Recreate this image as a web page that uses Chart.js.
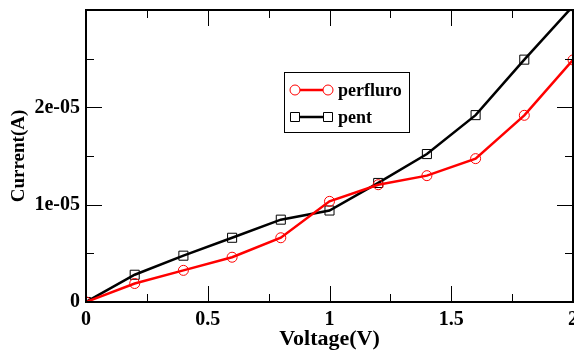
<!DOCTYPE html>
<html>
<head>
<meta charset="utf-8">
<script src="https://cdn.jsdelivr.net/npm/chart.js@4"></script>
<style>
    html, body { margin: 0; padding: 0; background: #fff; }
    #ivChart { display: block; }
</style>
</head>
<body>
<canvas id="ivChart" width="574" height="353"></canvas>
<script>
// I-V data (x in volts, y in amperes)
const voltage = [0, 0.2, 0.4, 0.6, 0.8, 1.0, 1.2, 1.4, 1.6, 1.8, 2.0];
const perfluroCurrent = [0, 0.19e-5, 0.325e-5, 0.46e-5, 0.66e-5, 1.034e-5, 1.205e-5, 1.298e-5, 1.473e-5, 1.918e-5, 2.487e-5];
const pentCurrent = [0, 0.28e-5, 0.476e-5, 0.66e-5, 0.846e-5, 0.94e-5, 1.223e-5, 1.52e-5, 1.92e-5, 2.49e-5, 3.04e-5];

// axis tick labels
const xTickLabels = ['0', '0.5', '1', '1.5', '2'];
const yTickLabels = ['0', '1e-05', '2e-05'];

const SERIF = '"Liberation Serif", "Times New Roman", serif';

function toPoints(xs, ys) {
    return xs.map((x, i) => ({ x: x, y: ys[i] }));
}

/**
 * Frame around the plot plus inward major/minor ticks on all four sides
 */
const frameTicks = {
    id: 'frameTicks',
    afterDraw(chart) {
        const { ctx, chartArea: a, scales } = chart;
        const xs = scales.x, ys = scales.y;
        ctx.save();
        ctx.strokeStyle = '#000';

        ctx.lineWidth = 1;
        ctx.beginPath();
        xs.ticks.forEach(t => {
            const px = Math.round(xs.getPixelForValue(t.value)) + 0.5;
            if (px <= a.left + 1 || px >= a.right - 1) return;
            const len = Math.abs(t.value / 0.5 - Math.round(t.value / 0.5)) < 1e-6 ? 16 : 8;
            ctx.moveTo(px, a.bottom); ctx.lineTo(px, a.bottom - len);
            ctx.moveTo(px, a.top); ctx.lineTo(px, a.top + len);
        });
        ys.ticks.forEach(t => {
            const py = Math.round(ys.getPixelForValue(t.value)) + 0.5;
            if (py <= a.top + 1 || py >= a.bottom - 1) return;
            const q = t.value / 1e-5;
            const len = Math.abs(q - Math.round(q)) < 1e-6 ? 16 : 8;
            ctx.moveTo(a.left, py); ctx.lineTo(a.left + len, py);
            ctx.moveTo(a.right, py); ctx.lineTo(a.right - len, py);
        });
        ctx.stroke();

        ctx.lineWidth = 2;
        ctx.strokeRect(a.left, a.top, a.right - a.left, a.bottom - a.top);
        ctx.restore();
    }
};

/**
 * Boxed legend with a line sample capped by a marker at each end
 */
const boxLegend = {
    id: 'boxLegend',
    afterDraw(chart) {
        const ctx = chart.ctx;
        const box = { x: 284.5, y: 72.5, w: 125, h: 60 };
        ctx.save();
        ctx.fillStyle = '#fff';
        ctx.fillRect(box.x, box.y, box.w, box.h);
        ctx.strokeStyle = '#000';
        ctx.lineWidth = 1;
        ctx.strokeRect(box.x, box.y, box.w, box.h);

        chart.data.datasets.forEach((ds, i) => {
            const y = 90 + i * 27;
            const x0 = 295, x1 = 328;
            ctx.strokeStyle = ds.borderColor;
            ctx.lineWidth = ds.borderWidth;
            ctx.beginPath();
            ctx.moveTo(x0, y); ctx.lineTo(x1, y);
            ctx.stroke();
            ctx.lineWidth = 1;
            [x0, x1].forEach(x => {
                ctx.beginPath();
                if (ds.pointStyle === 'rect') {
                    ctx.rect(x - 4.5, y - 4.5, 9, 9);
                } else {
                    ctx.arc(x, y, 5, 0, Math.PI * 2);
                }
                ctx.fillStyle = '#fff';
                ctx.fill();
                ctx.strokeStyle = ds.pointBorderColor;
                ctx.stroke();
            });
            ctx.fillStyle = '#000';
            ctx.font = 'bold 18px ' + SERIF;
            ctx.textBaseline = 'middle';
            ctx.fillText(ds.label, 338, y + 1);
        });
        ctx.restore();
    }
};

const ctx = document.getElementById('ivChart');
new Chart(ctx, {
    type: 'line',
    data: {
        datasets: [
            {
                label: 'perfluro',
                data: toPoints(voltage, perfluroCurrent),
                borderColor: '#ff0000',
                borderWidth: 2.5,
                pointStyle: 'circle',
                pointRadius: 5,
                pointBorderWidth: 1,
                pointBorderColor: '#ff0000',
                pointBackgroundColor: 'rgba(0,0,0,0)',
                tension: 0,
                clip: 0
            },
            {
                label: 'pent',
                data: toPoints(voltage, pentCurrent),
                borderColor: '#000000',
                borderWidth: 2.5,
                pointStyle: 'rect',
                pointRadius: 6.4,
                pointBorderWidth: 1,
                pointBorderColor: '#000000',
                pointBackgroundColor: 'rgba(0,0,0,0)',
                tension: 0,
                clip: 0
            }
        ]
    },
    options: {
        responsive: false,
        animation: false,
        layout: {
            autoPadding: false,
            padding: { top: 10, right: 1, left: 0, bottom: 0 }
        },
        plugins: {
            legend: { display: false },
            tooltip: { enabled: false }
        },
        scales: {
            x: {
                type: 'linear',
                min: 0,
                max: 2,
                grid: { display: false, drawTicks: false },
                border: { display: false },
                ticks: {
                    stepSize: 0.25,
                    autoSkip: false,
                    maxRotation: 0,
                    padding: 6,
                    color: '#000',
                    font: { family: SERIF, size: 20, weight: 'bold' },
                    callback: v => {
                        const i = Math.round(v / 0.5);
                        return Math.abs(v / 0.5 - i) < 1e-6 ? (xTickLabels[i] || '') : '';
                    }
                },
                title: {
                    display: true,
                    text: 'Voltage(V)',
                    color: '#000',
                    padding: { top: -4, bottom: 0 },
                    font: { family: SERIF, size: 22, weight: 'bold' }
                },
                // keep the plot edges fixed, labels may spill over
                afterFit: s => {
                    s.height = 51;
                    s.paddingLeft = 0;
                    s.paddingRight = 0;
                }
            },
            y: {
                type: 'linear',
                min: 0,
                max: 3e-5,
                grid: { display: false, drawTicks: false },
                border: { display: false },
                ticks: {
                    stepSize: 0.5e-5,
                    autoSkip: false,
                    padding: 6,
                    color: '#000',
                    font: { family: SERIF, size: 20, weight: 'bold' },
                    callback: v => {
                        const q = v / 1e-5;
                        const i = Math.round(q);
                        return Math.abs(q - i) < 1e-6 ? (yTickLabels[i] || '') : '';
                    }
                },
                title: {
                    display: true,
                    text: 'Current(A)',
                    color: '#000',
                    padding: { top: 8, bottom: 0 },
                    font: { family: SERIF, size: 19, weight: 'bold' }
                },
                afterFit: s => {
                    s.width = 86;
                    s.paddingTop = 0;
                    s.paddingBottom = 0;
                }
            }
        }
    },
    plugins: [frameTicks, boxLegend]
});
</script>
</body>
</html>
